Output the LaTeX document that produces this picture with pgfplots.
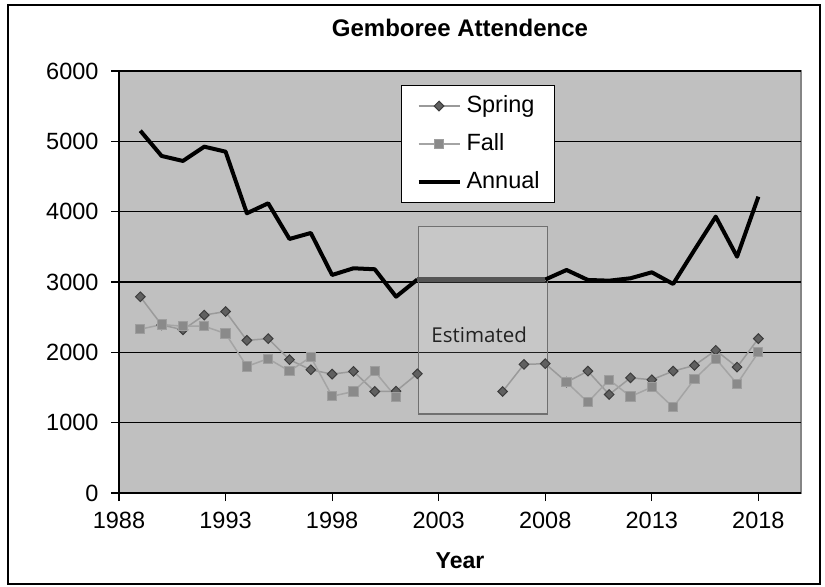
\documentclass[border=0pt]{standalone}
\usepackage{fontspec}
\setmainfont{Liberation Sans}
\newfontfamily\estfont{Open Sans}
\usepackage{pgfplots}
\pgfplotsset{compat=1.18}
\definecolor{bgc}{HTML}{C0C0C0}
\definecolor{borderc}{HTML}{858585}
\definecolor{sprline}{HTML}{9A9A9A}
\definecolor{sprfill}{HTML}{606060}
\definecolor{sprdraw}{HTML}{3C3C3C}
\definecolor{fallline}{HTML}{A4A4A4}
\definecolor{fallfill}{HTML}{8A8A8A}
\definecolor{falldraw}{HTML}{9E9E9E}
\definecolor{estc}{HTML}{555555}
\definecolor{boxdraw}{HTML}{707070}
\definecolor{esttext}{HTML}{222222}
\begin{document}
\begin{tikzpicture}
\begin{axis}[
  scale only axis, width=682bp, height=422bp,
  xmin=1988, xmax=2020, ymin=0, ymax=6000,
  xtick={1988,1993,...,2018}, ytick={0,1000,...,6000},
  axis x line*=bottom, axis y line*=left,
  axis line style={black, line width=1.5bp},
  axis background/.style={fill=bgc, draw=borderc, line width=1.5bp},
  tick align=outside, major tick length=8bp,
  tick style={black, line width=1.2bp},
  ymajorgrids, major grid style={black, line width=1.3bp},
  /pgf/number format/assume math mode=true,
  /pgf/number format/1000 sep={},
  tick label style={font=\fontsize{23.5bp}{28bp}\selectfont},
  xticklabel style={yshift=-8bp},
  yticklabel style={xshift=-9bp},
  unbounded coords=jump,
  title={Gemboree Attendence},
  title style={font=\bfseries\fontsize{24bp}{28bp}\selectfont, at={(0.5,1)}, anchor=base, yshift=29bp},
  xlabel={Year},
  xlabel style={font=\bfseries\fontsize{23bp}{28bp}\selectfont, at={(axis description cs:0.5,0)}, anchor=base, yshift=-75bp},
  legend style={at={(0.4135,0.9668)}, anchor=north west, draw=black, line width=1bp, fill=white,
    font=\fontsize{23.5bp}{28bp}\selectfont, inner xsep=15bp, inner ysep=9.5bp,
    row sep=16bp, column sep=5bp, nodes={inner sep=0pt, text height=17bp, text depth=5bp},
    cells={anchor=west}},
  legend image code/.code={\draw[mark repeat=2, mark phase=2, #1] plot coordinates {(0bp,0bp) (20.5bp,0bp) (41bp,0bp)};},
]
% estimated region box
\addplot[forget plot, draw=boxdraw, line width=1.2bp, fill=white, fill opacity=0.12]
  coordinates {(2002.04,1123) (2008.11,1123) (2008.11,3786) (2002.04,3786)} -- cycle;

\addplot[color=sprline, line width=1.5bp, mark=square*, mark size=3.4bp,
  mark options={rotate=45, fill=sprfill, draw=sprdraw, line width=1bp}] table {
x y
1989 2790
1990 2390
1991 2320
1992 2530
1993 2580
1994 2170
1995 2195
1996 1895
1997 1752
1998 1690
1999 1729
2000 1443
2001 1448
2002 1695
2003 nan
2006 1443
2007 1829
2008 1838
2009 1576
2010 1733
2011 1400
2012 1638
2013 1610
2014 1733
2015 1814
2016 2029
2017 1790
2018 2195
};
\addlegendentry{Spring}

\addplot[color=fallline, line width=1.5bp, mark=square*, mark size=4.6bp,
  mark options={fill=fallfill, draw=falldraw, line width=1bp}] table {
x y
1989 2329
1990 2395
1991 2371
1992 2371
1993 2267
1994 1800
1995 1910
1996 1733
1997 1933
1998 1376
1999 1443
2000 1729
2001 1362
2002 nan
2009 1576
2010 1290
2011 1610
2012 1371
2013 1505
2014 1219
2015 1619
2016 1910
2017 1552
2018 2000
};
\addlegendentry{Fall}

\addplot[color=black, line width=4bp, line join=round] table {
x y
1989 5151
1990 4792
1991 4721
1992 4924
1993 4853
1994 3977
1995 4119
1996 3612
1997 3697
1998 3100
1999 3195
2000 3181
2001 2791
2002 3035
2003 nan
2008 3035
2009 3171
2010 3029
2011 3019
2012 3053
2013 3138
2014 2972
2015 3455
2016 3929
2017 3360
2018 4213
};
\addlegendentry{Annual}

\addplot[forget plot, color=estc, line width=4.5bp] coordinates {(2002,3035) (2008,3035)};

\node[font=\estfont\fontsize{20.5bp}{24bp}\selectfont, anchor=base, text=esttext] at (axis cs:2004.9,2137) {Estimated};
\end{axis}
\draw[black, line width=2bp] (-111bp,-91bp) rectangle (701bp,488bp);
\useasboundingbox (-119bp,-94bp) rectangle (706bp,493bp);
\end{tikzpicture}
\end{document}
